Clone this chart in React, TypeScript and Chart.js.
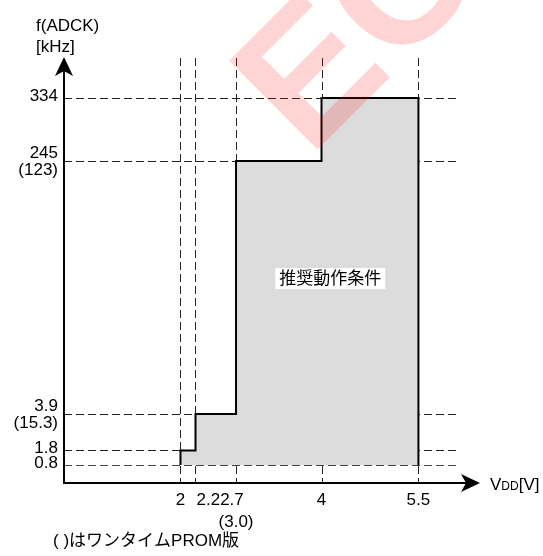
import React, { useEffect, useRef } from 'react';
import { Chart, registerables, LinearScale } from 'chart.js';

// ---- data ----
const vddTicks = [2, 2.2, 2.7, 4, 5.5];
const vddTickLabels = ['2', '2.2', '2.7', '4', '5.5'];
const vddTickLabelsOTP = ['', '', '(3.0)', '', ''];
const fTicks = [0.8, 1.8, 3.9, 245, 334];
const fTickLabels = ['0.8', '1.8', '3.9', '245', '334'];
const fTickLabelsOTP = ['', '', '(15.3)', '(123)', ''];
// recommended operating region (step boundary)
const stepVdd = [2, 2, 2.2, 2.2, 2.7, 2.7, 4, 4, 5.5, 5.5];
const stepF = [0.8, 1.8, 1.8, 3.9, 3.9, 245, 245, 334, 334, 0.8];

const yTitle = ['f(ADCK)', '[kHz]'];
const regionLabel = '推奨動作条件';
const footnote = '( )はワンタイムPROM版';
const watermark = 'EC';

// ---- schematic (not-to-scale) axis layout: fraction of axis length for each tick ----
const xAnchorFrac = [0.2800, 0.3161, 0.4135, 0.6190, 0.8520];
const yAnchorFrac = [0.0423, 0.0763, 0.1620, 0.7559, 0.9038];
// x tick label placement: centred on tick, starting at tick, or following previous label
const xLabelPlace = ['center', 'start', 'follow', 'center', 'center'];

function interp(v: number, xs: number[], ys: number[]) {
  const n = xs.length;
  let i = 0;
  if (v <= xs[0]) i = 0;
  else if (v >= xs[n - 1]) i = n - 2;
  else { while (i < n - 2 && v > xs[i + 1]) i++; }
  const t = (v - xs[i]) / (xs[i + 1] - xs[i]);
  return ys[i] + t * (ys[i + 1] - ys[i]);
}

function makeSchematicScale(id: string, values: number[], fracs: number[]) {
  class S extends (LinearScale as any) {
    static id = id;
    static defaults = (LinearScale as any).defaults;
    getPixelForValue(v: any) {
      if (v === null || v === undefined || isNaN(v)) return NaN;
      return (this as any).getPixelForDecimal(interp(+v, values, fracs));
    }
    getValueForPixel(p: number) {
      return interp((this as any).getDecimalForPixel(p), fracs, values);
    }
  }
  return S as any;
}

const SchematicX = makeSchematicScale('schematicX', vddTicks, xAnchorFrac);
const SchematicY = makeSchematicScale('schematicY', fTicks, yAnchorFrac);
Chart.register(...registerables, SchematicX, SchematicY);

const FONT = '"Liberation Sans", Arial, "Noto Sans CJK JP", sans-serif';

const decorPlugin = {
  id: 'decor',
  beforeDatasetsDraw(chart: any) {
    const { ctx, chartArea: a, scales } = chart;
    const x = scales.x, y = scales.y;
    const gridRight = a.left + a.width * 0.945;
    ctx.save();
    ctx.strokeStyle = '#222';
    ctx.lineWidth = 1;
    ctx.setLineDash([8, 4]);
    for (const v of fTicks) {
      const py = Math.round(y.getPixelForValue(v)) + 0.5;
      ctx.beginPath(); ctx.moveTo(a.left, py); ctx.lineTo(gridRight, py); ctx.stroke();
    }
    for (const v of vddTicks) {
      const px = Math.round(x.getPixelForValue(v)) + 0.5;
      ctx.beginPath(); ctx.moveTo(px, a.top + 1); ctx.lineTo(px, a.bottom); ctx.stroke();
    }
    ctx.restore();
  },
  afterDatasetsDraw(chart: any) {
    const { ctx, chartArea: a, scales } = chart;
    const x = scales.x, y = scales.y;
    const gridRight = a.left + a.width * 0.945;
    ctx.save();
    // bottom (lowest level) dashed line drawn over the fill
    ctx.strokeStyle = '#444';
    ctx.lineWidth = 1;
    ctx.setLineDash([8, 4]);
    {
      const py = Math.round(y.getPixelForValue(fTicks[0])) + 0.5;
      ctx.beginPath(); ctx.moveTo(a.left, py); ctx.lineTo(gridRight, py); ctx.stroke();
    }
    ctx.setLineDash([]);

    // axes
    ctx.strokeStyle = '#000';
    ctx.fillStyle = '#000';
    ctx.lineWidth = 2;
    ctx.beginPath();
    ctx.moveTo(a.left, a.bottom + 1);
    ctx.lineTo(a.left, a.top + 12);
    ctx.moveTo(a.left - 1, a.bottom);
    ctx.lineTo(a.right - 12, a.bottom);
    ctx.stroke();
    // y arrow
    ctx.beginPath();
    ctx.moveTo(a.left, a.top);
    ctx.lineTo(a.left - 9, a.top + 19);
    ctx.lineTo(a.left, a.top + 14);
    ctx.lineTo(a.left + 9, a.top + 19);
    ctx.closePath();
    ctx.fill();
    // x arrow
    ctx.beginPath();
    ctx.moveTo(a.right, a.bottom);
    ctx.lineTo(a.right - 19, a.bottom - 9);
    ctx.lineTo(a.right - 14, a.bottom);
    ctx.lineTo(a.right - 19, a.bottom + 9);
    ctx.closePath();
    ctx.fill();

    // y tick labels
    ctx.font = '17px ' + FONT;
    ctx.fillStyle = '#000';
    ctx.textAlign = 'right';
    ctx.textBaseline = 'middle';
    const lx = a.left - 6;
    fTicks.forEach((v, i) => {
      const py = y.getPixelForValue(v);
      if (fTickLabelsOTP[i]) {
        ctx.fillText(fTickLabels[i], lx, py - 8);
        ctx.fillText(fTickLabelsOTP[i], lx, py + 9);
      } else {
        ctx.fillText(fTickLabels[i], lx, py - 2);
      }
    });

    // x tick labels
    ctx.textAlign = 'left';
    const ly = a.bottom + 17;
    let prevRight = 0;
    vddTicks.forEach((v, i) => {
      const px = x.getPixelForValue(v);
      const w = ctx.measureText(vddTickLabels[i]).width;
      let left = px - w / 2;
      if (xLabelPlace[i] === 'start') left = px + 1;
      else if (xLabelPlace[i] === 'follow') left = prevRight;
      ctx.fillText(vddTickLabels[i], left, ly);
      prevRight = left + w;
      if (vddTickLabelsOTP[i]) {
        ctx.textAlign = 'center';
        ctx.fillText(vddTickLabelsOTP[i], px, ly + 22);
        ctx.textAlign = 'left';
      }
    });

    // axis titles
    ctx.textAlign = 'left';
    ctx.fillText(yTitle[0], 36, 26);
    ctx.fillText(yTitle[1], 36, 47);
    ctx.textBaseline = 'alphabetic';
    let tx = a.right + 10;
    const tb = a.bottom + 7;
    ctx.font = '17px ' + FONT;
    ctx.fillText('V', tx, tb); tx += ctx.measureText('V').width;
    ctx.font = '12px ' + FONT;
    ctx.fillText('DD', tx, tb); tx += ctx.measureText('DD').width;
    ctx.font = '17px ' + FONT;
    ctx.fillText('[V]', tx, tb);

    // region label with white box
    ctx.font = '17px ' + FONT;
    ctx.textBaseline = 'middle';
    ctx.textAlign = 'center';
    const cx = (x.getPixelForValue(vddTicks[2]) + x.getPixelForValue(vddTicks[4])) / 2 + 3;
    const cy = a.top + a.height * 0.52;
    const rw = ctx.measureText(regionLabel).width + 8;
    ctx.fillStyle = '#fff';
    ctx.fillRect(cx - rw / 2, cy - 10.5, rw, 21);
    ctx.fillStyle = '#000';
    ctx.fillText(regionLabel, cx, cy + 1);

    // footnote
    ctx.textAlign = 'left';
    ctx.fillText(footnote, 53, 541);

    // watermark
    ctx.translate(309, 158);
    ctx.rotate(-Math.PI / 4);
    ctx.font = 'bold 182px ' + FONT;
    ctx.textBaseline = 'alphabetic';
    ctx.fillStyle = 'rgba(255, 0, 0, 0.17)';
    ctx.fillText(watermark, 0, 0);
    ctx.restore();
  },
};

export default function App() {
  const ref = useRef<HTMLCanvasElement>(null);
  useEffect(() => {
    document.body.style.margin = '0';
    const canvas = ref.current!;
    const chart = new Chart(canvas, {
      type: 'line',
      data: {
        datasets: [
          {
            data: stepVdd.map((v, i) => ({ x: v, y: stepF[i] })),
            borderColor: '#000',
            borderWidth: 2,
            backgroundColor: '#dcdcdc',
            fill: { value: fTicks[0] },
            pointRadius: 0,
            tension: 0,
            borderJoinStyle: 'miter',
          } as any,
        ],
      },
      options: {
        animation: false,
        responsive: false,
        devicePixelRatio: 1,
        events: [],
        layout: { padding: { left: 64, top: 57, right: 63, bottom: 73 } },
        plugins: { legend: { display: false }, tooltip: { enabled: false } },
        scales: {
          x: { type: 'schematicX' as any, display: false, min: 0, max: 7 },
          y: { type: 'schematicY' as any, display: false, min: 0, max: 400 },
        },
      },
      plugins: [decorPlugin],
    });
    return () => chart.destroy();
  }, []);
  return <canvas ref={ref} width={543} height={556} style={{ display: 'block', width: 543, height: 556 }} />;
}
